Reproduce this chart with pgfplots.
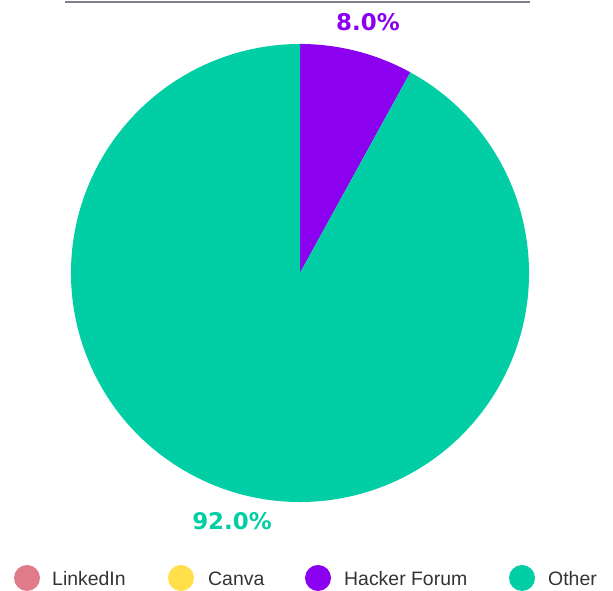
\documentclass[border=0pt]{standalone}
\usepackage{pgfplots}
\pgfplotsset{compat=1.18}
\usepackage{fontspec}
\setmainfont{Liberation Sans}
\newfontfamily\labfont{DejaVu Sans}

\definecolor{linkedin}{HTML}{E07B8A}
\definecolor{canva}{HTML}{FFE04B}
\definecolor{hacker}{HTML}{8B00EE}
\definecolor{other}{HTML}{02CEA6}
\definecolor{rule}{HTML}{80808F}

% share of each source (percent)
\def\vLinkedIn{0}
\def\vCanva{0}
\def\vHacker{8}
\def\vOther{92}

\begin{document}
\begin{tikzpicture}
\begin{axis}[
    width=613bp, height=590bp,
    scale only axis,
    xmin=0, xmax=613, ymin=0, ymax=590,
    hide axis,
    clip=false
]
% keep the whole canvas
\path (axis cs:0,0) -- (axis cs:613,590);
% top rule
\draw[rule, line width=2bp] (axis cs:65,588) -- (axis cs:530,588);

% pie, starting at 12 o'clock, clockwise
\pgfmathsetmacro{\aA}{90-3.6*\vHacker}
\fill[hacker] (axis cs:300,317) -- ++(90:229bp)
    arc[start angle=90, end angle=\aA, radius=229bp] -- cycle;
\fill[other] (axis cs:300,317) -- ++(\aA:229bp)
    arc[start angle=\aA, end angle=\aA-3.6*\vOther, radius=229bp] -- cycle;

% slice labels
\node[hacker, font=\labfont\bfseries\fontsize{23}{23}\selectfont] at (axis cs:368,568) {8.0\%};
\node[other, font=\labfont\bfseries\fontsize{23}{23}\selectfont] at (axis cs:232,69) {92.0\%};

% legend
\fill[linkedin] (axis cs:27,12) circle (13bp);
\node[anchor=west, text=black!80, font=\fontsize{19.5}{19.5}\selectfont, inner sep=0pt] at (axis cs:52,11) {LinkedIn};
\fill[canva] (axis cs:181,12) circle (13bp);
\node[anchor=west, text=black!80, font=\fontsize{19.5}{19.5}\selectfont, inner sep=0pt] at (axis cs:208,11) {Canva};
\fill[hacker] (axis cs:318,12) circle (13bp);
\node[anchor=west, text=black!80, font=\fontsize{19.5}{19.5}\selectfont, inner sep=0pt] at (axis cs:344,11) {Hacker Forum};
\fill[other] (axis cs:522,12) circle (13bp);
\node[anchor=west, text=black!80, font=\fontsize{19.5}{19.5}\selectfont, inner sep=0pt] at (axis cs:548,11) {Other};
\end{axis}
\end{tikzpicture}
\end{document}
